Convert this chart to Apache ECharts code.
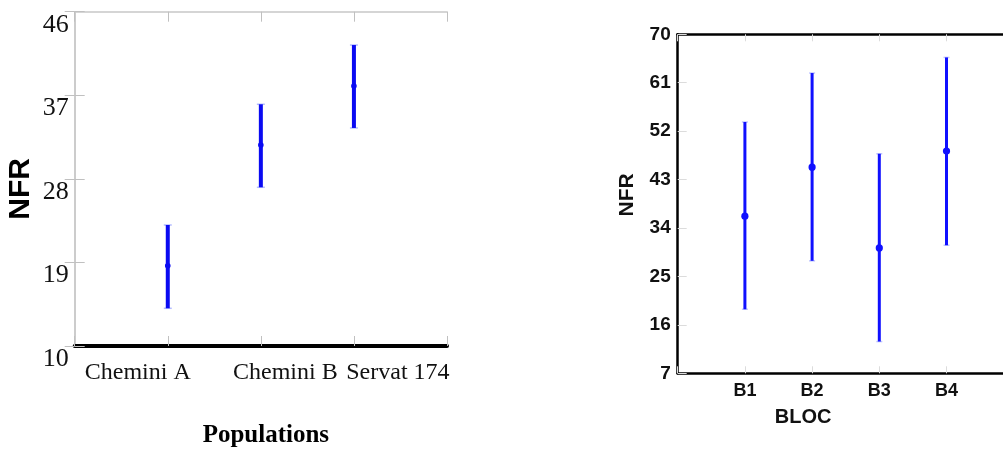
<!DOCTYPE html>
<html>
<head>
<meta charset="utf-8">
<script src="https://cdn.jsdelivr.net/npm/echarts@6/dist/echarts.min.js"></script>
<style>
html,body{margin:0;padding:0;background:#fff;}
#c{width:1003px;height:453px;}
</style>
</head>
<body>
<div id="c"></div>
<script>
// ---- Left chart data ----
var leftCategories = ['Chemini A', 'Chemini B', 'Servat 174'];
var leftMean = [18.65, 31.65, 38.0];
var leftLow = [14.06, 27.09, 33.48];
var leftHigh = [23.03, 36.03, 42.41];
var leftYTicks = [10, 19, 28, 37, 46];

// ---- Right chart data ----
var rightCategories = ['B1', 'B2', 'B3', 'B4'];
var rightMean = [36.2, 45.3, 30.3, 48.3];
var rightLow = [18.9, 27.9, 12.9, 30.8];
var rightHigh = [53.7, 62.8, 47.8, 65.7];
var rightYTicks = [7, 16, 25, 34, 43, 52, 61, 70];

function rows(means, lows, highs) {
  return means.map(function (m, i) { return [i + 1, m, lows[i], highs[i]]; });
}

function errRender(lineW, capW, dotR, color, capColor) {
  return function (params, api) {
    var x = api.value(0);
    var pm = api.coord([x, api.value(1)]);
    var pl = api.coord([x, api.value(2)]);
    var ph = api.coord([x, api.value(3)]);
    return {
      type: 'group',
      children: [
        { type: 'line', shape: { x1: pl[0] - capW, y1: pl[1], x2: pl[0] + capW, y2: pl[1] }, style: { stroke: capColor, lineWidth: 1.5 } },
        { type: 'line', shape: { x1: ph[0] - capW, y1: ph[1], x2: ph[0] + capW, y2: ph[1] }, style: { stroke: capColor, lineWidth: 1.5 } },
        { type: 'line', shape: { x1: pl[0], y1: pl[1], x2: ph[0], y2: ph[1] }, style: { stroke: color, lineWidth: lineW } },
        { type: 'circle', shape: { cx: pm[0], cy: pm[1], r: dotR }, style: { fill: color } }
      ]
    };
  };
}

var gray = '#c8c8c8';
var tickGray = '#c0c0c0';
var lightTick = '#dcdcdc';
var serif = '"Liberation Serif", "Times New Roman", serif';
var sans = '"Liberation Sans", Arial, sans-serif';

var labelShift = [ // rich padding per label [top,right,bottom,left]
  [0, 60, 0, 0],
  [0, 0, 0, 49],
  [0, 0, 0, 88]
];
var rich = {};
labelShift.forEach(function (p, i) {
  rich['l' + i] = { fontFamily: serif, fontSize: 24, color: '#111', padding: p };
});

var chart = echarts.init(document.getElementById('c'), null, { renderer: 'canvas' });
chart.setOption({
  animation: false,
  backgroundColor: '#fff',
  grid: [
    { left: 74.7, top: 11.7, width: 372.3, height: 334.3, containLabel: false, outerBoundsMode: 'none' },
    { left: 677.7, top: 34.3, width: 336, height: 339, containLabel: false, outerBoundsMode: 'none' }
  ],
  xAxis: [
    {
      gridIndex: 0, type: 'value', position: 'bottom', min: 0, max: leftCategories.length + 1, interval: 1,
      axisLine: { lineStyle: { color: '#000', width: 4 } },
      axisTick: { inside: true, length: 10, lineStyle: { color: tickGray } },
      splitLine: { show: false },
      axisLabel: {
        margin: 15,
        formatter: function (v) { var i = Math.round(v) - 1; return leftCategories[i] ? '{l' + i + '|' + leftCategories[i] + '}' : ''; },
        rich: rich
      },
      name: 'Populations', nameLocation: 'middle', nameGap: 77,
      nameTextStyle: { fontFamily: serif, fontWeight: 'bold', fontSize: 25, color: '#000', padding: [0, 0, 0, 10] }
    },
    {
      gridIndex: 0, type: 'value', position: 'top', min: 0, max: leftCategories.length + 1, interval: 1,
      axisLine: { lineStyle: { color: gray, width: 1.5 } },
      axisTick: { inside: true, length: 10, lineStyle: { color: tickGray } },
      splitLine: { show: false }, axisLabel: { show: false }
    },
    {
      gridIndex: 1, type: 'value', position: 'bottom', min: 0, max: rightCategories.length + 1, interval: 1,
      axisLine: { lineStyle: { color: '#000', width: 2.5 } },
      axisTick: { inside: true, length: 7, lineStyle: { color: lightTick } },
      splitLine: { show: false },
      axisLabel: {
        margin: 9, fontFamily: sans, fontWeight: 'bold', fontSize: 18, color: '#111',
        formatter: function (v) { return rightCategories[Math.round(v) - 1] || ''; }
      },
      name: 'BLOC', nameLocation: 'middle', nameGap: 34,
      nameTextStyle: { fontFamily: sans, fontWeight: 'bold', fontSize: 20, color: '#111', padding: [0, 85, 0, 0] }
    },
    {
      gridIndex: 1, type: 'value', position: 'top', min: 0, max: rightCategories.length + 1, interval: 1,
      axisLine: { lineStyle: { color: '#000', width: 2.5 } },
      axisTick: { inside: true, length: 7, lineStyle: { color: lightTick } },
      splitLine: { show: false }, axisLabel: { show: false }
    }
  ],
  yAxis: [
    {
      gridIndex: 0, type: 'value', position: 'left',
      min: leftYTicks[0], max: leftYTicks[leftYTicks.length - 1], interval: leftYTicks[1] - leftYTicks[0],
      axisLine: { show: true, lineStyle: { color: gray, width: 1.5 } },
      axisTick: { show: true, inside: true, length: 10, lineStyle: { color: tickGray } },
      splitLine: { show: false },
      axisLabel: { margin: 6, fontFamily: serif, fontSize: 26, color: '#111', verticalAlign: 'top' },
      name: 'NFR', nameLocation: 'middle', nameGap: 39, nameRotate: 90,
      nameTextStyle: { fontFamily: sans, fontWeight: 'bold', fontSize: 30, color: '#000', padding: [0, 20, 0, 0] }
    },
    {
      gridIndex: 0, type: 'value', position: 'right',
      min: leftYTicks[0], max: leftYTicks[leftYTicks.length - 1], interval: leftYTicks[1] - leftYTicks[0],
      axisLine: { show: true, lineStyle: { color: gray, width: 1.5 } },
      axisTick: { show: true, inside: true, length: 10, lineStyle: { color: tickGray } },
      splitLine: { show: false }, axisLabel: { show: false }
    },
    {
      gridIndex: 1, type: 'value', position: 'left',
      min: rightYTicks[0], max: rightYTicks[rightYTicks.length - 1], interval: rightYTicks[1] - rightYTicks[0],
      axisLine: { show: true, lineStyle: { color: '#000', width: 2.5 } },
      axisTick: { show: true, inside: true, length: 9, lineStyle: { color: lightTick } },
      splitLine: { show: false },
      axisLabel: { margin: 7, fontFamily: sans, fontWeight: 'bold', fontSize: 19, color: '#111' },
      name: 'NFR', nameLocation: 'middle', nameGap: 40, nameRotate: 90,
      nameTextStyle: { fontFamily: sans, fontWeight: 'bold', fontSize: 21, color: '#111', padding: [0, 0, 0, 18] }
    }
  ],
  series: [
    {
      type: 'custom', xAxisIndex: 0, yAxisIndex: 0,
      renderItem: errRender(4, 4, 2.8, '#0a0af2', '#b4bcff'),
      data: rows(leftMean, leftLow, leftHigh), clip: false
    },
    {
      type: 'custom', xAxisIndex: 2, yAxisIndex: 2,
      renderItem: errRender(3, 3, 3.6, '#1010ff', '#c0c6ff'),
      data: rows(rightMean, rightLow, rightHigh), clip: false
    }
  ]
});
</script>
</body>
</html>
